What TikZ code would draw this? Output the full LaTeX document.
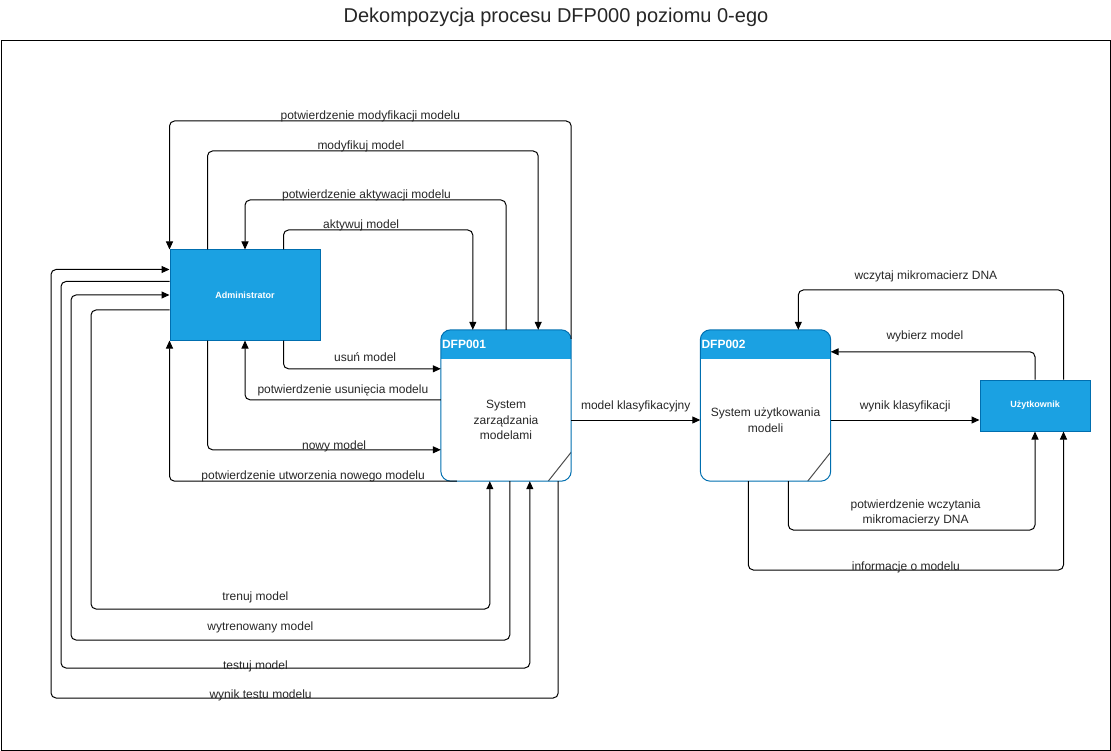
\documentclass[tikz,border=0pt]{standalone}
\usepackage{fontspec}
\setmainfont{Liberation Sans}
\usetikzlibrary{arrows.meta}
\definecolor{dfpblue}{HTML}{1BA1E2}
\definecolor{dfpline}{HTML}{006EAF}
\tikzset{flow/.style={draw=black, line width=1pt, rounded corners=5pt, -{Triangle[length=8pt,width=7pt]}},
lbl/.style={above, inner sep=1pt, yshift=-2, font=\fontsize{12}{15}\selectfont, text=black!85},
actor/.style={draw=dfpline, fill=dfpblue, line width=1pt, text=white, font=\bfseries\fontsize{9}{11}\selectfont},
%process boxes get their header drawn below
proc/.style={minimum width=130pt, minimum height=151pt, inner sep=0pt},
body/.style={align=center, font=\fontsize{12}{15.5}\selectfont, text=black!85},
hdr/.style={anchor=west, inner sep=1pt, text=white, font=\bfseries\fontsize{12}{14}\selectfont}}

\begin{document}
\begin{tikzpicture}[x=1pt,y=-1pt]
\useasboundingbox (0,0) rectangle (1111,751);
\node[font=\fontsize{20}{24}\selectfont, text=black!85] (title) at (556,17) {Dekompozycja procesu DFP000 poziomu 0-ego};
\draw[line width=1pt] (1,40.5) rectangle (1110,750);

% nodes
\node[actor, minimum width=150pt, minimum height=90pt] (admin) at (245,295) {Administrator};
\node[proc] (p1) at (506,405.5) {};
\node[proc] (p2) at (765.5,405.5) {};
\node[actor, minimum width=110pt, minimum height=51pt] (user) at (1035,405.5) {Użytkownik};

\foreach \p/\id in {p1/DFP001,p2/DFP002}{
  \begin{scope}
    \clip[rounded corners=10pt] (\p.north west) rectangle (\p.south east);
    \fill[dfpblue] (\p.north west) rectangle ([yshift=-29]\p.north east);
    \draw[gray!60!black, line width=1pt] ([xshift=-23]\p.south east) -- ([yshift=29]\p.south east);
  \end{scope}
  \draw[dfpline, line width=1pt, rounded corners=10pt] (\p.north west) rectangle (\p.south east);
  \node[hdr] (\p hd) at ([yshift=-14.5]\p.north west) {\id};
}
\node[body] (p1txt) at ([yshift=-14.5]p1.center) {System\\zarządzania\\modelami};
\node[body] (p2txt) at ([yshift=-14.5]p2.center) {System użytkowania\\modeli};

% top loops
\draw[flow] ([yshift=-9]p1.north east) -- (p1.north east |- 0,121) -| node[lbl,pos=0.25]{potwierdzenie modyfikacji modelu} (admin.north west);
\draw[flow] ([xshift=38]admin.north west) -- ([xshift=38]admin.north west |- 0,151) -| node[lbl,pos=0.25,xshift=-12]{modyfikuj model} ([xshift=-33]p1.north east);
\draw[flow] (p1.north) -- (p1.north |- 0,200) -| node[lbl,pos=0.25,xshift=-9]{potwierdzenie aktywacji modelu} (admin.north);
\draw[flow] ([xshift=-37]admin.north east) -- ([xshift=-37]admin.north east |- 0,230) -| node[lbl,pos=0.25,xshift=-17]{aktywuj model} ([xshift=32]p1.north west);

% middle
\draw[flow] ([xshift=-37]admin.south east) |- node[lbl,pos=0.75,xshift=3,yshift=8]{usuń model} ([yshift=-39]p1.north west);
\draw[flow] ([yshift=-70]p1.north west) -| node[lbl,pos=0.25,yshift=4]{potwierdzenie usunięcia modelu} (admin.south);
\draw[flow] ([xshift=38]admin.south west) |- node[lbl,pos=0.75,xshift=10,yshift=-2]{nowy model} ([yshift=-120]p1.north west);
\draw[flow] ([xshift=16]p1.south west) -| node[lbl,pos=0.25]{potwierdzenie utworzenia nowego modelu} (admin.south west);

% bottom loops
\draw[flow] ([yshift=-15]admin.west) -| (91,609) -| node[lbl,pos=0.25,xshift=-35,yshift=7]{trenuj model} ([xshift=49]p1.south west);
\draw[flow] ([xshift=69]p1.south west) |- node[lbl,pos=0.75,xshift=-30,yshift=8]{wytrenowany model} (71,640) |- (admin.west);
\draw[flow] ([yshift=-32]admin.north west) -| (61,668) -| node[lbl,pos=0.25,xshift=-40,yshift=-3]{testuj model} ([xshift=89]p1.south west);
\draw[flow] ([xshift=-13]p1.south east) |- node[lbl,pos=0.75,xshift=-44,yshift=-2]{wynik testu modelu} (51,698) |- ([yshift=-20]admin.north west);

\draw[flow] ([yshift=-14.5]p1.east) -- node[lbl,yshift=9]{model klasyfikacyjny} ([yshift=-14.5]p2.west);

% user side
\draw[flow] ([xshift=-27]user.north east) -- ([xshift=-27]user.north east |- 0,290) -| node[lbl,pos=0.25,xshift=-5,yshift=9]{wczytaj mikromacierz DNA} ([xshift=98]p2.north west);
\draw[flow] (user.north) |- node[lbl,pos=0.75,xshift=-8,yshift=10]{wybierz model} ([yshift=-22]p2.north east);
\draw[flow] ([yshift=-14.5]p2.east) -- node[lbl,yshift=9]{wynik klasyfikacji} ([yshift=-14.5]user.west);
\draw[flow] ([xshift=88]p2.south west) -- ([xshift=88]p2.south west |- 0,530) -| node[lbl,pos=0.25,align=center,xshift=4,yshift=5]{potwierdzenie wczytania\\mikromacierzy DNA} (user.south);
\draw[flow] ([xshift=48]p2.south west) -- ([xshift=48]p2.south west |- 0,570) -| node[lbl,pos=0.25,yshift=-2]{informacje o modelu} ([xshift=-27]user.south east);

\end{tikzpicture}
\end{document}
